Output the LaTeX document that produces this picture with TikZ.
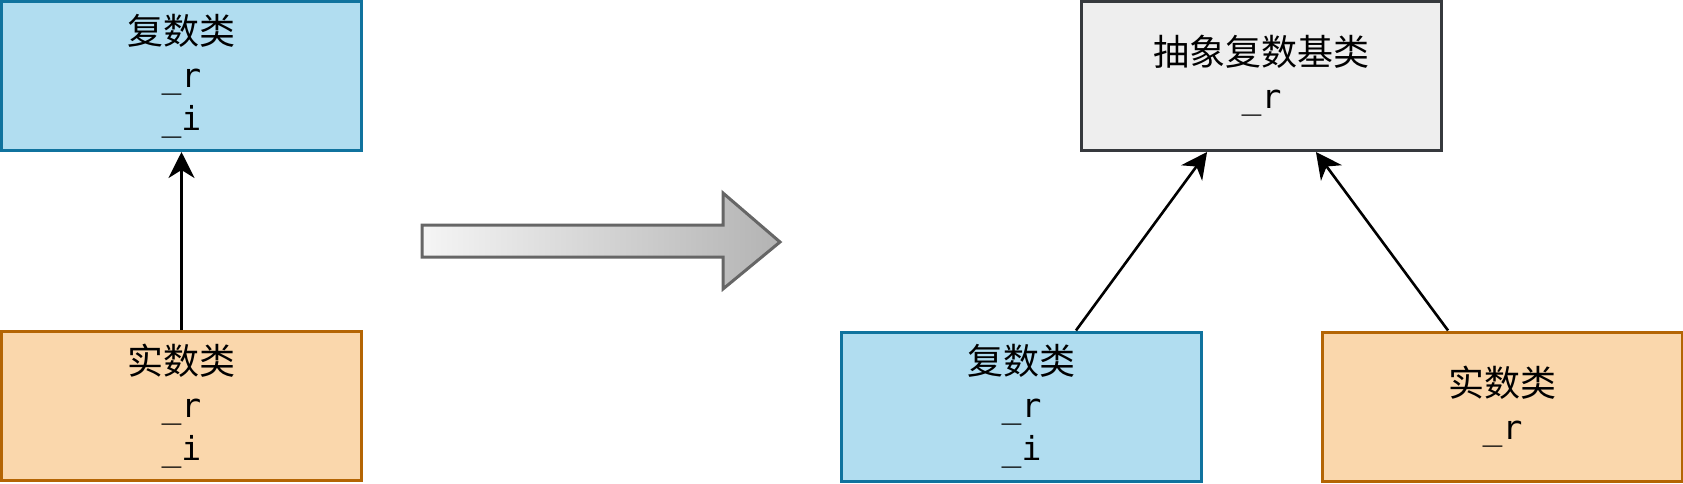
\documentclass[tikz,border=0pt]{standalone}
\usepackage{fontspec}
\setmonofont{DejaVu Sans Mono}
\newfontfamily\cjk{Noto Sans CJK SC}
\usetikzlibrary{arrows.meta, positioning, calc}

\definecolor{cplxfill}{HTML}{B1DDF0}
\definecolor{cplxline}{HTML}{10739E}
\definecolor{realfill}{HTML}{FAD7AC}
\definecolor{realline}{HTML}{B46504}
\definecolor{basefill}{HTML}{EEEEEE}
\definecolor{baseline}{HTML}{36393D}
\definecolor{bigleft}{HTML}{F5F5F5}
\definecolor{bigright}{HTML}{B3B3B3}
\definecolor{bigline}{HTML}{666666}

\newcommand{\fld}[1]{{\ttfamily\fontsize{16.5}{21.5}\selectfont\_#1}}

\begin{document}
\begin{tikzpicture}[
  x=0.5pt, y=-0.5pt,
  box/.style={rectangle, draw, line width=1.5pt, minimum width=180pt, minimum height=74.5pt,
    align=center, font=\cjk\fontsize{18}{21.5}\selectfont},
  cplx/.style={box, fill=cplxfill, draw=cplxline},
  real/.style={box, fill=realfill, draw=realline},
  base/.style={box, fill=basefill, draw=baseline},
  arrow/.style={-{Stealth[length=13pt, width=13pt, inset=4pt]}, line width=1.3pt}
]
\useasboundingbox (0,0) rectangle (1683,483);

% Before: two separate classes
\node[cplx] (C) at (181.5,76) {复数类\\\fld{r}\\\fld{i}};
\node[real] (R) [below=89pt of C] {实数类\\\fld{r}\\\fld{i}};

\draw[arrow] (R) -- (C);

% Big arrow between the two halves
\shade[left color=bigleft, right color=bigright, draw=bigline, line width=1.5pt]
  (422,225) -- (723,225) -- (723,193) -- (780,242) -- (723,289) -- (723,257) -- (422,257) -- cycle;

% After: common abstract base
\node[base] (B) at (1261.5,76) {抽象复数基类\\\fld{r}};
\node[cplx] (C2) at (1021.5,406.5) {复数类\\\fld{r}\\\fld{i}};
\node[real] (R2) [right=59pt of C2] {实数类\\\fld{r}};

\draw[arrow] ($(C2.north west)!0.65!(C2.north east)$) -- ($(B.south west)!0.35!(B.south east)$);
\draw[arrow] ($(R2.north west)!0.35!(R2.north east)$) -- ($(B.south west)!0.65!(B.south east)$);

\end{tikzpicture}
\end{document}
